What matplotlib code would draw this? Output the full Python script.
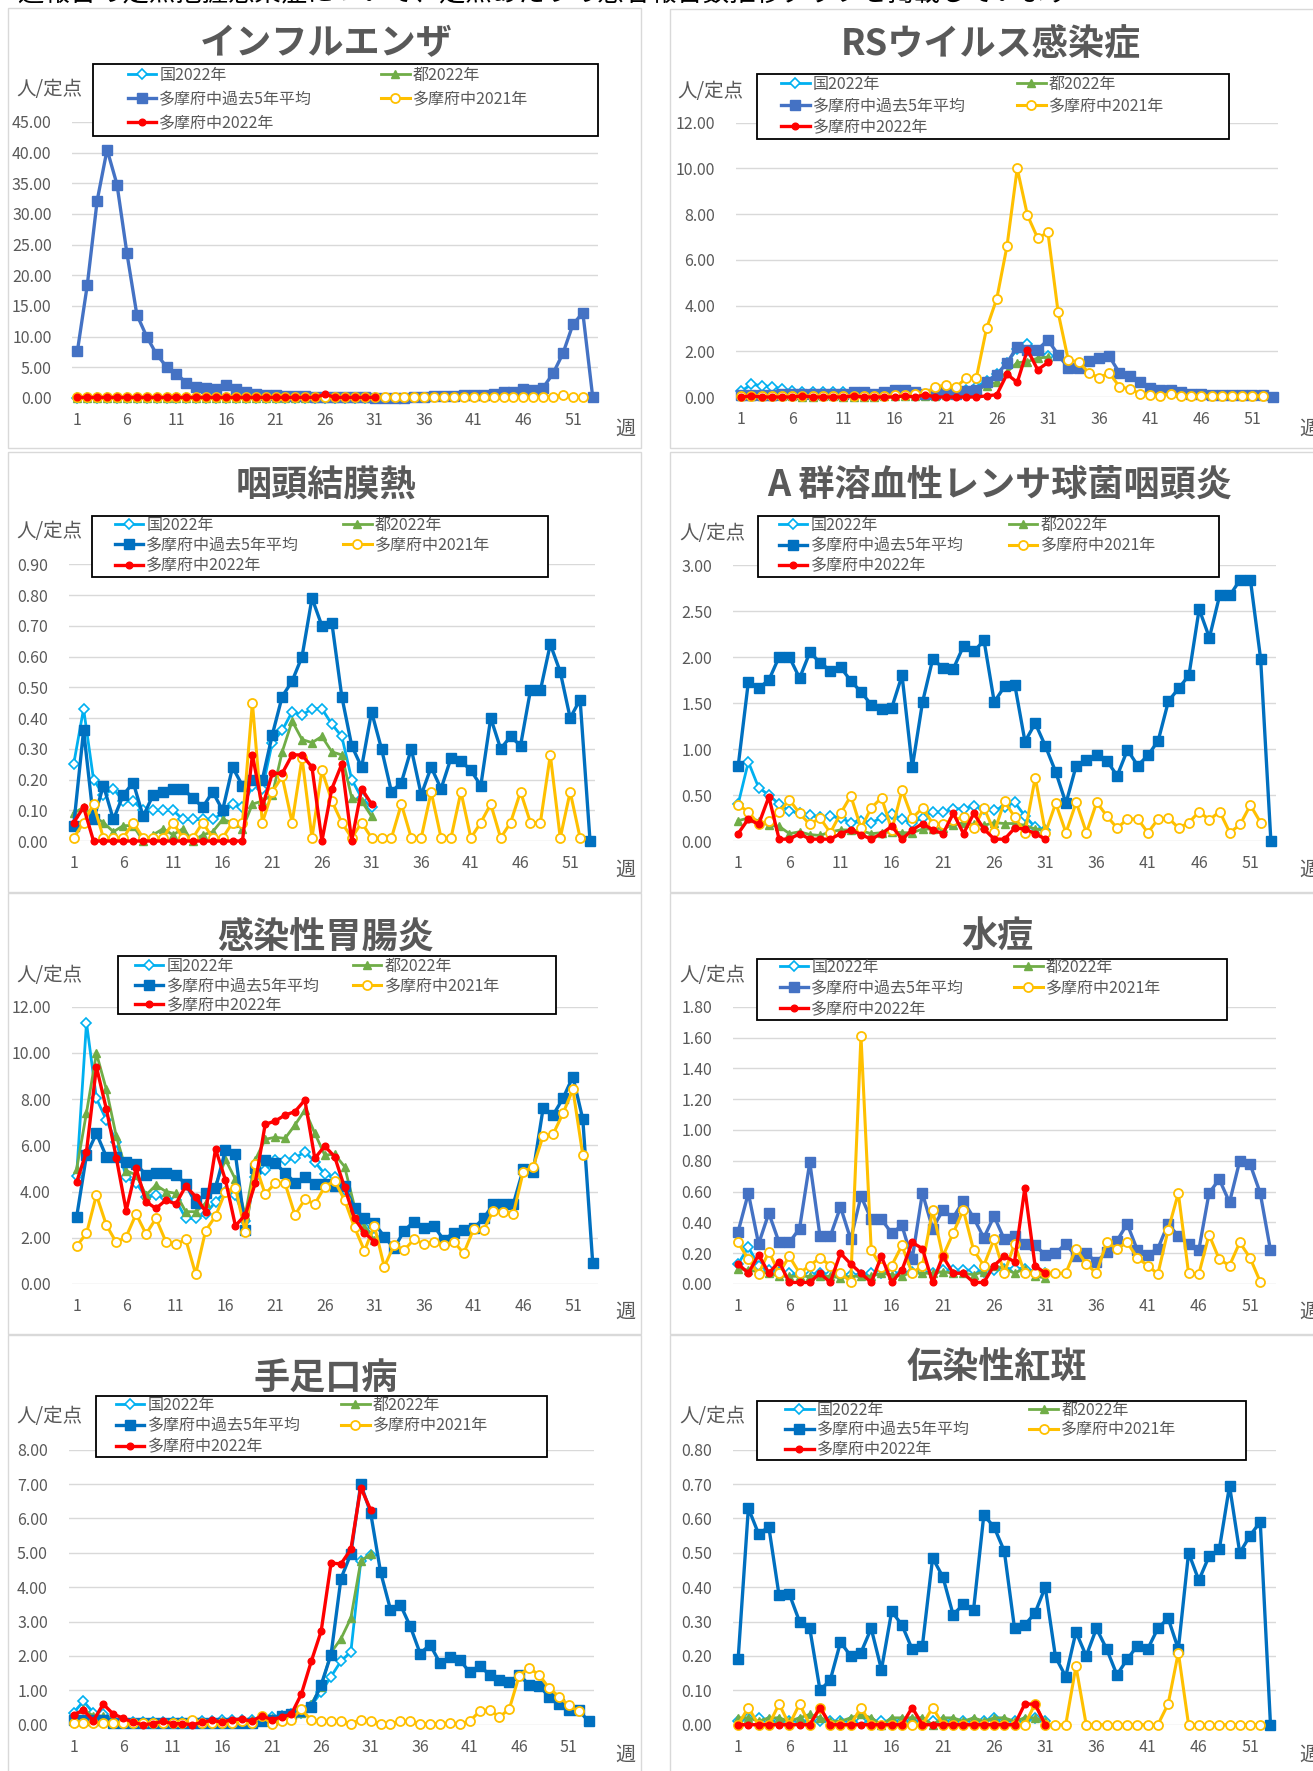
import matplotlib
matplotlib.use('Agg')
import matplotlib.pyplot as plt
from matplotlib.lines import Line2D
from matplotlib.patches import Rectangle
import numpy as np

plt.rcParams['font.family'] = ['Noto Sans CJK JP', 'DejaVu Sans']

# ---------------- data ----------------
series_labels = ['国2022年', '都2022年', '多摩府中過去5年平均', '多摩府中2021年', '多摩府中2022年']
titles = ['インフルエンザ', 'RSウイルス感染症', '咽頭結膜熱', 'A 群溶血性レンサ球菌咽頭炎',
          '感染性胃腸炎', '水痘', '手足口病', '伝染性紅斑']
week_ticks = [1, 6, 11, 16, 21, 26, 31, 36, 41, 46, 51]

# インフルエンザ
flu_kuni = [0.02,0.02,0.02,0.02,0.02,0.02,0.02,0.02,0.02,0.02,0.02,0.02,0.02,0.02,0.02,0.02,
            0.02,0.02,0.02,0.02,0.02,0.02,0.02,0.02,0.02,0.02,0.02,0.02,0.02,0.02,0.02]
flu_to = [0.0,0.0,0.0,0.0,0.0,0.0,0.0,0.0,0.0,0.0,0.0,0.0,0.0,0.0,0.0,0.0,
          0.0,0.0,0.0,0.0,0.0,0.0,0.0,0.0,0.0,0.0,0.0,0.0,0.0,0.0,0.0]
flu_avg = [7.6,18.4,32.2,40.5,34.8,23.6,13.6,10.0,7.1,5.1,3.9,2.5,1.8,1.55,1.5,2.2,1.5,1.0,0.67,0.55,
           0.45,0.4,0.3,0.25,0.2,0.15,0.1,0.1,0.1,0.1,0.05,0.05,0.05,0.05,0.1,0.2,0.3,0.35,0.4,0.5,
           0.55,0.55,0.6,0.9,0.95,1.45,1.3,1.7,4.0,7.3,12.0,13.9,0.1]
flu_2021 = [0.1,0.1,0.1,0.1,0.1,0.1,0.1,0.1,0.1,0.1,0.1,0.1,0.1,0.1,0.1,0.1,0.1,0.1,0.1,0.1,
            0.1,0.1,0.1,0.1,0.1,0.1,0.1,0.1,0.1,0.1,0.1,0.1,0.1,0.1,0.1,0.1,0.1,0.1,0.1,0.1,
            0.1,0.1,0.1,0.1,0.1,0.1,0.1,0.15,0.2,0.45,0.15,0.1]
flu_2022 = [0.1,0.1,0.1,0.1,0.1,0.1,0.1,0.1,0.1,0.1,0.1,0.1,0.1,0.1,0.1,0.1,
            0.1,0.1,0.1,0.1,0.1,0.1,0.1,0.1,0.1,0.6,0.1,0.1,0.1,0.1,0.1]

# RSウイルス感染症
rs_kuni = [0.25,0.55,0.5,0.45,0.35,0.25,0.2,0.2,0.2,0.2,0.2,0.15,0.15,0.1,0.1,0.1,0.1,0.1,0.1,0.15,
           0.2,0.2,0.3,0.45,0.7,1.0,1.5,2.1,2.3,2.0,1.8]
rs_to = [0.05,0.05,0.05,0.05,0.05,0.03,0.0,0.0,0.03,0.03,0.0,0.0,0.0,0.0,0.03,0.03,0.03,0.03,0.05,0.05,
         0.1,0.15,0.2,0.3,0.5,0.65,1.1,1.5,1.55,1.7,1.75]
rs_avg = [0.1,0.1,0.1,0.1,0.15,0.15,0.15,0.15,0.15,0.15,0.15,0.2,0.2,0.15,0.2,0.3,0.3,0.2,0.15,0.15,
          0.2,0.15,0.25,0.3,0.64,0.98,1.49,2.2,2.07,2.07,2.5,1.85,1.27,1.27,1.56,1.7,1.78,1.05,0.9,0.64,
          0.4,0.32,0.32,0.2,0.15,0.12,0.1,0.1,0.1,0.1,0.1,0.1,0.0]
rs_2021 = [0.05,0.05,0.05,0.05,0.05,0.05,0.05,0.05,0.05,0.05,0.05,0.05,0.05,0.05,0.05,0.1,0.1,0.15,0.17,0.42,
           0.54,0.42,0.83,0.83,3.0,4.3,6.6,10.0,7.95,6.95,7.2,3.7,1.6,1.55,1.05,0.85,1.05,0.45,0.35,0.15,
           0.1,0.05,0.15,0.05,0.05,0.05,0.05,0.05,0.05,0.05,0.05,0.05]
rs_2022 = [0.0,0.05,0.0,0.0,0.0,0.0,0.05,0.0,0.0,0.0,0.0,0.05,0.0,0.0,0.0,0.0,0.05,0.0,0.1,0.0,
           0.0,0.0,0.0,0.0,0.05,0.1,1.0,0.64,2.07,1.19,1.51]

# 咽頭結膜熱
ph_kuni = [0.25,0.43,0.20,0.15,0.17,0.13,0.13,0.10,0.10,0.10,0.10,0.07,0.07,0.07,0.07,0.09,0.12,0.11,0.18,0.17,
           0.32,0.36,0.42,0.41,0.43,0.43,0.38,0.34,0.20,0.14,0.11]
ph_to = [0.09,0.11,0.08,0.06,0.03,0.05,0.05,0.0,0.02,0.04,0.02,0.04,0.0,0.02,0.03,0.07,0.06,0.04,0.12,0.13,
         0.15,0.29,0.39,0.33,0.32,0.34,0.29,0.28,0.14,0.13,0.08]
ph_avg = [0.05,0.36,0.07,0.18,0.07,0.15,0.19,0.08,0.15,0.16,0.17,0.17,0.14,0.11,0.16,0.10,0.24,0.18,0.20,0.20,
          0.345,0.47,0.52,0.60,0.79,0.70,0.71,0.47,0.31,0.24,0.42,0.30,0.16,0.19,0.30,0.15,0.24,0.17,0.27,0.26,
          0.23,0.18,0.40,0.30,0.34,0.31,0.49,0.49,0.64,0.55,0.40,0.46,0.0]
ph_2021 = [0.01,0.06,0.12,0.01,0.01,0.01,0.06,0.01,0.01,0.01,0.06,0.01,0.01,0.06,0.01,0.01,0.06,0.06,0.45,0.06,
           0.16,0.21,0.06,0.27,0.01,0.23,0.13,0.06,0.01,0.06,0.01,0.01,0.01,0.12,0.01,0.01,0.16,0.01,0.01,0.16,
           0.01,0.06,0.12,0.01,0.06,0.16,0.06,0.06,0.28,0.01,0.16,0.01]
ph_2022 = [0.06,0.11,0.0,0.0,0.0,0.0,0.0,0.0,0.0,0.0,0.0,0.0,0.0,0.0,0.0,0.0,0.0,0.0,0.28,0.11,
           0.22,0.22,0.28,0.28,0.24,0.0,0.17,0.25,0.0,0.17,0.12]

# A群溶血性レンサ球菌咽頭炎
gas_kuni = [0.40,0.86,0.58,0.50,0.40,0.33,0.30,0.28,0.26,0.27,0.25,0.20,0.22,0.20,0.25,0.29,0.24,0.20,0.25,0.32,
            0.31,0.35,0.35,0.38,0.35,0.34,0.37,0.42,0.27,0.15,0.12]
gas_to = [0.22,0.25,0.22,0.17,0.16,0.08,0.10,0.07,0.06,0.10,0.12,0.12,0.11,0.08,0.09,0.10,0.09,0.09,0.13,0.13,
          0.14,0.17,0.20,0.18,0.17,0.20,0.19,0.19,0.17,0.13,0.12]
gas_avg = [0.81,1.73,1.66,1.75,2.0,2.0,1.77,2.05,1.94,1.85,1.89,1.74,1.62,1.48,1.44,1.45,1.80,0.80,1.51,1.98,
           1.88,1.87,2.12,2.06,2.18,1.51,1.68,1.70,1.08,1.28,1.03,0.75,0.41,0.82,0.88,0.93,0.87,0.71,0.99,0.82,
           0.93,1.09,1.52,1.66,1.80,2.52,2.21,2.67,2.67,2.84,2.84,1.98,0.0]
gas_2021 = [0.39,0.32,0.18,0.22,0.31,0.45,0.30,0.18,0.25,0.09,0.30,0.49,0.14,0.36,0.47,0.12,0.55,0.25,0.36,0.19,
            0.19,0.23,0.26,0.14,0.36,0.10,0.43,0.26,0.09,0.69,0.09,0.41,0.09,0.42,0.09,0.42,0.27,0.14,0.24,0.24,
            0.09,0.24,0.25,0.14,0.20,0.32,0.23,0.32,0.09,0.18,0.39,0.20]
gas_2022 = [0.08,0.24,0.18,0.48,0.02,0.02,0.08,0.02,0.02,0.02,0.08,0.12,0.07,0.02,0.08,0.16,0.02,0.12,0.19,0.12,
            0.08,0.30,0.08,0.30,0.13,0.02,0.02,0.14,0.13,0.08,0.02]

# 感染性胃腸炎
ge_kuni = [4.67,11.31,8.03,7.10,6.16,4.62,4.36,3.78,3.85,3.71,3.63,2.84,2.84,3.03,3.56,4.0,3.85,2.74,4.62,4.93,
           5.37,5.37,5.44,5.73,5.29,4.76,4.62,4.07,3.06,2.48,2.05]
ge_to = [4.96,7.41,9.98,8.42,6.40,4.90,4.72,3.85,4.28,4.0,3.92,3.13,3.13,3.49,4.28,5.39,4.53,2.99,5.37,6.26,
         6.35,6.30,6.88,7.53,6.52,5.58,5.61,5.08,3.35,2.48,1.90]
ge_avg = [2.88,5.58,6.52,5.51,5.51,5.29,5.19,4.72,4.82,4.82,4.72,4.33,3.49,3.95,4.14,5.80,5.63,2.34,5.0,5.37,
          5.22,4.82,4.38,4.62,4.33,4.33,4.24,4.24,3.27,2.84,2.63,2.05,1.54,2.31,2.70,2.41,2.51,1.90,2.22,2.34,
          2.41,2.84,3.46,3.46,3.46,4.96,4.86,7.60,7.31,8.03,8.97,7.13,0.89]
ge_2021 = [1.64,2.19,3.85,2.55,1.80,2.05,3.03,2.16,2.84,1.83,1.72,1.93,0.43,2.31,2.94,4.0,4.17,2.24,5.18,3.89,
           4.36,4.36,2.99,3.66,3.46,4.21,4.47,3.63,2.45,1.44,2.52,0.75,1.69,1.47,1.93,1.73,1.83,1.67,1.83,1.33,
           2.37,2.34,3.17,3.13,3.03,4.86,5.08,6.40,6.48,7.38,8.42,5.58]
ge_2022 = [4.40,5.73,9.40,7.57,5.47,3.17,5.0,3.56,3.27,3.63,3.46,4.24,3.78,3.13,5.84,4.50,2.52,2.99,4.36,6.91,
           7.05,7.31,7.46,7.96,5.44,5.97,5.51,4.18,2.84,2.22,1.83]

# 水痘
vz_kuni = [0.13,0.24,0.12,0.09,0.08,0.07,0.06,0.06,0.07,0.06,0.06,0.06,0.06,0.07,0.07,0.07,0.07,0.08,0.08,0.07,
           0.09,0.09,0.09,0.09,0.08,0.09,0.10,0.10,0.10,0.08,0.07]
vz_to = [0.10,0.09,0.08,0.07,0.05,0.05,0.05,0.05,0.05,0.05,0.04,0.05,0.05,0.05,0.07,0.06,0.05,0.08,0.07,0.07,
         0.08,0.07,0.07,0.06,0.08,0.12,0.10,0.07,0.10,0.05,0.04]
vz_avg = [0.34,0.59,0.26,0.46,0.27,0.27,0.36,0.79,0.31,0.31,0.50,0.29,0.57,0.42,0.42,0.33,0.38,0.16,0.59,0.36,
          0.48,0.43,0.54,0.43,0.30,0.44,0.29,0.31,0.26,0.25,0.19,0.20,0.26,0.18,0.20,0.14,0.21,0.28,0.39,0.22,
          0.19,0.23,0.39,0.31,0.26,0.22,0.59,0.68,0.53,0.80,0.78,0.59,0.22]
vz_2021 = [0.27,0.16,0.065,0.21,0.07,0.18,0.07,0.12,0.17,0.12,0.07,0.015,1.61,0.22,0.11,0.12,0.25,0.07,0.12,0.48,
           0.18,0.33,0.48,0.22,0.12,0.29,0.07,0.26,0.07,0.07,0.07,0.07,0.07,0.23,0.13,0.07,0.27,0.23,0.27,0.17,
           0.12,0.065,0.35,0.59,0.07,0.065,0.32,0.16,0.12,0.27,0.17,0.015]
vz_2022 = [0.13,0.07,0.19,0.07,0.145,0.01,0.01,0.01,0.07,0.01,0.20,0.13,0.07,0.01,0.18,0.01,0.09,0.27,0.23,0.01,
           0.18,0.07,0.07,0.01,0.01,0.12,0.18,0.145,0.62,0.12,0.07]

# 手足口病
hf_kuni = [0.35,0.68,0.35,0.30,0.15,0.10,0.08,0.07,0.07,0.07,0.07,0.08,0.08,0.10,0.12,0.13,0.13,0.14,0.15,0.18,
           0.22,0.25,0.30,0.35,0.55,0.95,1.40,1.85,2.12,4.75,4.95]
hf_to = [0.25,0.45,0.25,0.25,0.15,0.10,0.07,0.06,0.06,0.06,0.06,0.07,0.07,0.08,0.10,0.10,0.11,0.12,0.13,0.17,
         0.20,0.25,0.30,0.35,0.60,1.10,2.10,2.50,3.10,4.75,4.98]
hf_avg = [0.15,0.15,0.13,0.15,0.05,0.05,0.05,0.05,0.05,0.05,0.05,0.05,0.05,0.05,0.05,0.05,0.05,0.05,0.05,0.10,
          0.15,0.25,0.30,0.40,0.52,1.16,2.04,4.25,4.97,7.0,6.16,4.44,3.35,3.49,2.86,2.07,2.33,1.79,1.97,1.89,
          1.52,1.72,1.45,1.31,1.23,1.45,1.16,1.14,0.82,0.61,0.44,0.42,0.10]
hf_2021 = [0.05,0.05,0.05,0.05,0.05,0.05,0.05,0.05,0.05,0.05,0.05,0.05,0.15,0.05,0.05,0.05,0.05,0.10,0.05,0.25,
           0.03,0.10,0.15,0.45,0.13,0.10,0.10,0.10,0.03,0.15,0.10,0.03,0.03,0.10,0.10,0.03,0.03,0.03,0.05,0.03,
           0.10,0.39,0.44,0.22,0.46,1.43,1.65,1.45,1.07,0.82,0.56,0.39]
hf_2022 = [0.29,0.42,0.12,0.60,0.31,0.19,0.07,0.0,0.03,0.10,0.03,0.03,0.0,0.07,0.13,0.07,0.15,0.16,0.10,0.26,
           0.15,0.22,0.31,0.89,1.84,2.72,4.70,4.68,5.10,6.90,6.25]

# 伝染性紅斑
ei_kuni = [0.01,0.02,0.02,0.01,0.01,0.01,0.01,0.01,0.01,0.01,0.01,0.01,0.01,0.01,0.01,0.01,0.01,0.01,0.01,0.01,
           0.01,0.01,0.01,0.01,0.01,0.02,0.01,0.01,0.01,0.02,0.01]
ei_to = [0.02,0.02,0.01,0.02,0.02,0.01,0.02,0.03,0.02,0.01,0.01,0.02,0.03,0.02,0.0,0.02,0.02,0.02,0.02,0.0,
         0.02,0.02,0.01,0.02,0.01,0.02,0.02,0.01,0.02,0.02,0.01]
ei_avg = [0.19,0.63,0.555,0.575,0.376,0.38,0.30,0.28,0.10,0.13,0.24,0.20,0.21,0.28,0.16,0.33,0.29,0.22,0.23,0.485,
          0.43,0.32,0.35,0.335,0.61,0.575,0.505,0.28,0.29,0.325,0.40,0.197,0.14,0.27,0.20,0.28,0.22,0.145,0.19,0.23,
          0.22,0.28,0.31,0.22,0.50,0.42,0.49,0.51,0.695,0.50,0.55,0.59,0.0]
ei_2021 = [0.0,0.05,0.0,0.0,0.06,0.0,0.06,0.0,0.05,0.0,0.0,0.0,0.05,0.0,0.0,0.0,0.0,0.0,0.0,0.05,
           0.0,0.0,0.0,0.0,0.0,0.0,0.0,0.0,0.0,0.06,0.0,0.0,0.0,0.17,0.0,0.0,0.0,0.0,0.0,0.0,
           0.0,0.0,0.06,0.21,0.0,0.0,0.0,0.0,0.0,0.0,0.0,0.0]
ei_2022 = [0.0,0.0,0.0,0.0,0.0,0.0,0.0,0.0,0.05,0.0,0.0,0.0,0.0,0.0,0.0,0.0,0.0,0.05,0.0,0.0,
           0.0,0.0,0.0,0.0,0.0,0.0,0.0,0.0,0.06,0.06,0.0]

y_max = [45, 12, 0.9, 3.0, 12, 1.8, 8, 0.8]
y_step = [5, 2, 0.1, 0.5, 2, 0.2, 1, 0.1]

panel_data = [
    (flu_kuni, flu_to, flu_avg, flu_2021, flu_2022),
    (rs_kuni, rs_to, rs_avg, rs_2021, rs_2022),
    (ph_kuni, ph_to, ph_avg, ph_2021, ph_2022),
    (gas_kuni, gas_to, gas_avg, gas_2021, gas_2022),
    (ge_kuni, ge_to, ge_avg, ge_2021, ge_2022),
    (vz_kuni, vz_to, vz_avg, vz_2021, vz_2022),
    (hf_kuni, hf_to, hf_avg, hf_2021, hf_2022),
    (ei_kuni, ei_to, ei_avg, ei_2021, ei_2022),
]

# ---------------- layout (pixels) ----------------
W, H = 1313, 1771
fig = plt.figure(figsize=(W / 100, H / 100), dpi=100)
fig.patch.set_facecolor('white')

def fx(px):
    return px / W

def fy(py):
    return 1 - py / H

GRAY = '#595959'
GRID = '#D9D9D9'
AVG_COLORS = ['#4472C4', '#4472C4', '#0070C0', '#0070C0', '#0070C0', '#4472C4', '#0070C0', '#0070C0']

# axes: left, right, y-pixel of 0, y-pixel of max
ax_px = [
    (72.4, 597.7, 398, 122),
    (736, 1278, 397, 122.7),
    (68.7, 595, 841, 564.3),
    (733, 1276, 841, 565),
    (71.6, 597.7, 1284, 1006.7),
    (733, 1275.6, 1284, 1006.7),
    (68.6, 593.5, 1724.7, 1449.7),
    (733, 1275.6, 1724.7, 1449.7),
]
title_px = [(326, 44), (991, 44), (326, 485.5), (999.5, 485.5), (326, 937), (997, 937), (326, 1378.5), (997, 1368.5)]
unit_px = [(49, 90), (710, 92), (49, 532), (712.5, 533.5), (49, 975.3), (712.6, 975.3), (49, 1416.7), (712.6, 1416.7)]
week_px = [(625, 429), (1309, 429), (625, 870), (1309, 870), (625, 1312), (1309, 1312), (625, 1755), (1309, 1755)]
# legend box (x0, y0, x1, y1), col1 x, col2 x, row y's
leg_px = [
    ((93.4, 64.3, 597.7, 135.7), 127.5, 381, (75.5, 99.5, 123.5)),
    ((757, 74, 1229, 138.7), 781, 1017, (84.5, 106.5, 127.5)),
    ((91.8, 515.7, 548, 576.7), 114.5, 343, (525.5, 545.5, 566)),
    ((757.9, 516, 1219, 577), 778.7, 1008.6, (525.5, 546, 566)),
    ((117.9, 956, 555.6, 1014.3), 134.7, 352.7, (966.5, 986.5, 1005.5)),
    ((757, 959, 1226.5, 1020), 779.5, 1014, (967.5, 988.5, 1009.5)),
    ((96, 1396.3, 547, 1457), 115.7, 341, (1405.5, 1426, 1447)),
    ((757, 1400.7, 1246.4, 1460.3), 785, 1029.4, (1410, 1430, 1450)),
]
panel_rects = [
    (8.4, 8.3, 640.6, 448), (670.4, 9.3, 1330, 448),
    (8.4, 451.7, 640.6, 891.7), (670.4, 451.7, 1330, 891.7),
    (8.4, 893.3, 640.6, 1334), (670.4, 893.3, 1330, 1334),
    (8.4, 1334.7, 640.6, 1790), (670.4, 1334.7, 1330, 1790),
]

# header text (mostly cut off at the top edge, as in the source page)
fig.text(fx(17), fy(1.5), '週報告の定点把握感染症について、定点あたりの患者報告数推移グラフを掲載しています',
         fontsize=19, color='black', ha='left', va='baseline')

for (x0, y0, x1, y1) in panel_rects:
    fig.add_artist(Rectangle((fx(x0), fy(y1)), fx(x1) - fx(x0), (y1 - y0) / H,
                             transform=fig.transFigure, fill=False, ec=GRID, lw=1.0, zorder=1))

def styles(avg_color):
    return [
        dict(color='#00B0F0', marker='D', mfc='white', mec='#00B0F0', ms=5, mew=1.2, lw=2.0),
        dict(color='#70AD47', marker='^', mfc='#70AD47', mec='#70AD47', ms=6, lw=2.0),
        dict(color=avg_color, marker='s', mfc=avg_color, mec=avg_color, ms=7, lw=2.4),
        dict(color='#FFC000', marker='o', mfc='white', mec='#FFC000', ms=6.5, mew=1.3, lw=2.2),
        dict(color='#FF0000', marker='o', mfc='#FF0000', mec='#FF0000', ms=4.8, lw=2.4),
    ]

for i in range(8):
    left, right, yb, yt = ax_px[i]
    ax = fig.add_axes([fx(left), fy(yb), fx(right) - fx(left), (yb - yt) / H])
    ax.set_facecolor('none')
    st = styles(AVG_COLORS[i])
    for k, vals in enumerate(panel_data[i]):
        wk = np.arange(1, len(vals) + 1)
        ax.plot(wk, vals, clip_on=False, zorder=2 + k, **st[k])
    ax.set_xlim(0.5, 53.5)
    ax.set_ylim(0, y_max[i])
    yt_vals = np.arange(0, y_max[i] + y_step[i] / 2, y_step[i])
    ax.set_yticks(yt_vals)
    ax.set_yticklabels([f'{v:.2f}' for v in yt_vals])
    ax.set_xticks(week_ticks)
    ax.set_xticklabels([str(w) for w in week_ticks])
    ax.tick_params(axis='both', length=0, labelsize=11.5, labelcolor=GRAY)
    ax.tick_params(axis='y', pad=15)
    ax.tick_params(axis='x', pad=10)
    for s in ax.spines.values():
        s.set_visible(False)
    ax.yaxis.grid(True, color=GRID, lw=1.0)
    ax.set_axisbelow(True)

    # title, units
    tx, ty = title_px[i]
    fig.text(fx(tx), fy(ty), titles[i], ha='center', va='center', fontsize=26,
             fontweight='bold', color=GRAY)
    ux, uy = unit_px[i]
    fig.text(fx(ux), fy(uy), '人/定点', ha='center', va='center', fontsize=14, color=GRAY)
    wx, wy = week_px[i]
    fig.text(fx(wx), fy(wy), '週', ha='center', va='center', fontsize=14.5, color=GRAY)

    # legend frame and entries
    (bx0, by0, bx1, by1), c1, c2, rows = leg_px[i]
    fig.add_artist(Rectangle((fx(bx0), fy(by1)), fx(bx1) - fx(bx0), (by1 - by0) / H,
                             transform=fig.transFigure, fc='white', ec='black', lw=1.3, zorder=4))
    positions = [(c1, rows[0]), (c2, rows[0]), (c1, rows[1]), (c2, rows[1]), (c1, rows[2])]
    for k in range(5):
        h = Line2D([], [], **st[k])
        px, py = positions[k]
        fig.legend([h], [series_labels[k]], loc='center left', bbox_to_anchor=(fx(px), fy(py)),
                   bbox_transform=fig.transFigure, frameon=False, borderpad=0, borderaxespad=0,
                   handlelength=1.8, handletextpad=0.2, fontsize=11.5, labelcolor=GRAY)

fig.savefig('out.png', dpi=100, facecolor='white')
